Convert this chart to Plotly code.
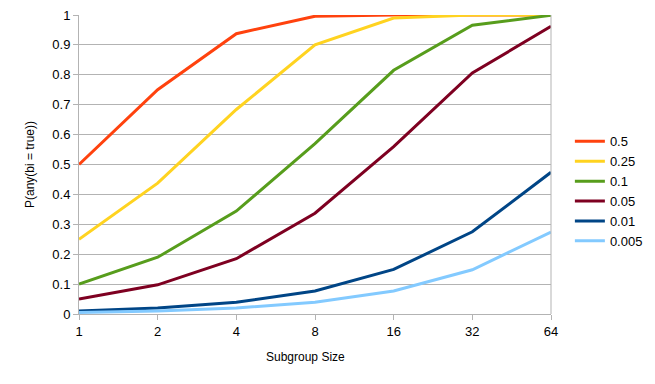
import plotly.graph_objects as go

sizes = ["1", "2", "4", "8", "16", "32", "64"]
names = ["0.5", "0.25", "0.1", "0.05", "0.01", "0.005"]
colors = ["#ff420e", "#ffd320", "#579d1c", "#7e0021", "#004586", "#83caff"]
p_05 = [0.5, 0.75, 0.9375, 0.996, 1.0, 1.0, 1.0]
p_025 = [0.25, 0.4375, 0.684, 0.9, 0.99, 1.0, 1.0]
p_01 = [0.1, 0.19, 0.344, 0.57, 0.815, 0.966, 0.999]
p_005 = [0.05, 0.0975, 0.185, 0.337, 0.56, 0.806, 0.962]
p_001 = [0.01, 0.02, 0.039, 0.077, 0.149, 0.275, 0.474]
p_0005 = [0.005, 0.01, 0.02, 0.039, 0.077, 0.148, 0.274]
series = [p_05, p_025, p_01, p_005, p_001, p_0005]

fig = go.Figure()
for n, c, v in zip(names, colors, series):
    fig.add_trace(go.Scatter(x=sizes, y=v, name=n, mode="lines",
                             line=dict(color=c, width=3)))

font = dict(family="Liberation Sans, Arial, sans-serif", size=13, color="#000000")
fig.update_layout(
    width=647, height=376,
    margin=dict(l=71, r=104, t=7, b=70),
    paper_bgcolor="white", plot_bgcolor="white",
    font=font,
    legend=dict(x=1.04, y=0.41, xanchor="left", yanchor="middle",
                font=dict(size=13), tracegroupgap=0, itemwidth=30),
    xaxis=dict(type="category", range=[0, 6], showgrid=False, automargin=False,
               ticks="outside", ticklen=5, tickcolor="#b3b3b3",
               showline=True, linecolor="#b3b3b3", mirror=False,
               ticklabeloverflow="allow",
               zeroline=False),
    yaxis=dict(range=[0, 1], dtick=0.1, showgrid=True, gridcolor="#b3b3b3", automargin=False,
               ticks="outside", ticklen=5, tickcolor="#b3b3b3",
               showline=True, linecolor="#b3b3b3", zeroline=False,
               ticklabeloverflow="allow",
               title=dict(text="P(any(bi = true))", font=dict(size=12))),
)
fig.add_annotation(text="Subgroup Size", xref="paper", yref="paper", x=0.479, y=-0.144,
                   xanchor="center", yanchor="middle", showarrow=False,
                   font=dict(size=12))
fig.add_shape(type="line", xref="paper", yref="paper", x0=1, x1=1, y0=0, y1=1,
              line=dict(color="#b3b3b3", width=1))
fig.write_html("out.html")
